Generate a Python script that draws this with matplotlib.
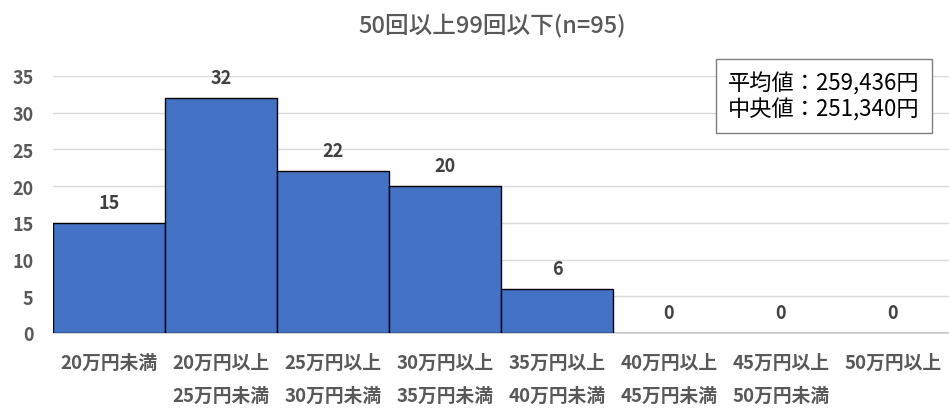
import matplotlib
matplotlib.use("Agg")
import matplotlib.pyplot as plt

plt.rcParams['font.family'] = ['Noto Sans CJK JP', 'DejaVu Sans']

# data
categories = ['20万円未満', '20万円以上\n25万円未満', '25万円以上\n30万円未満',
              '30万円以上\n35万円未満', '35万円以上\n40万円未満', '40万円以上\n45万円未満',
              '45万円以上\n50万円未満', '50万円以上']
counts = [15, 32, 22, 20, 6, 0, 0, 0]
yticks = [0, 5, 10, 15, 20, 25, 30, 35]
title = '50回以上99回以下(n=95)'
stats_text = '平均値：259,436円\n中央値：251,340円'

fig = plt.figure(figsize=(9.49, 4.10), dpi=100)
ax = fig.add_axes([53 / 949, 76 / 410, 896 / 949, 257 / 410])

x = range(len(counts))
ax.bar(x, counts, width=1.0, color='#4472C4', edgecolor='black', linewidth=1.0, zorder=3)

for xi, v in zip(x, counts):
    ax.annotate(str(v), (xi, v), xytext=(0, 8), textcoords='offset points',
                ha='center', va='bottom', fontsize=13, fontweight='bold', color='#404040')

ax.set_xlim(-0.5, len(counts) - 0.5)
ax.set_ylim(0, 35)
ax.set_yticks(yticks)
ax.set_xticks(list(x))
ax.set_xticklabels(categories, fontsize=13.5, fontweight='bold', color='#595959',
                   linespacing=1.95, va='top')
ax.tick_params(axis='x', length=0, pad=14)
ax.tick_params(axis='y', length=0, pad=14, labelsize=13, labelcolor='#595959')
for lbl in ax.get_yticklabels():
    lbl.set_fontweight('bold')

ax.grid(axis='y', color='#d9d9d9', linewidth=1.0, zorder=0)
for s in ['top', 'right', 'left']:
    ax.spines[s].set_visible(False)
ax.spines['bottom'].set_color('#d9d9d9')

fig.text(492 / 949, 1 - 25 / 410, title, ha='center', va='center',
         fontsize=17, fontweight='medium', color='#595959')

fig.text(728 / 949, 1 - 97 / 410, stats_text, ha='left', va='center', fontsize=16,
         color='black', linespacing=1.15,
         bbox=dict(boxstyle='square,pad=0.55', facecolor='white', edgecolor='#7f7f7f', linewidth=1.0))

fig.savefig('out.png', dpi=100)
